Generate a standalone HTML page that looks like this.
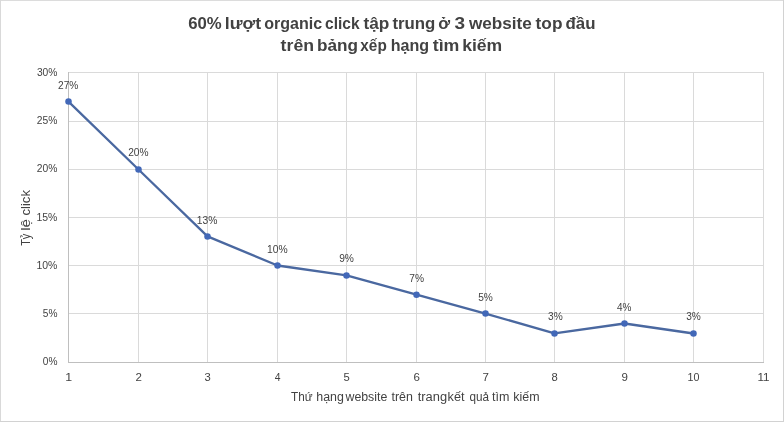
<!DOCTYPE html>
<html><head><meta charset="utf-8"><title>chart</title>
<style>
html,body{margin:0;padding:0;background:#fff;}
body{width:784px;height:423px;overflow:hidden;font-family:"Liberation Sans",sans-serif;}
svg{display:block;position:absolute;left:0;top:0;will-change:transform;}
text{font-family:"Liberation Sans",sans-serif;fill:#424242;white-space:pre;}
</style></head><body>
<svg width="784" height="423" viewBox="0 0 784 423">
<rect x="0" y="0" width="784" height="423" fill="#ffffff"/>
<g shape-rendering="crispEdges" stroke-width="1"><line x1="0" y1="0.5" x2="784" y2="0.5" stroke="#dcdcdc"/><line x1="0.5" y1="0" x2="0.5" y2="422" stroke="#d9d9d9"/><line x1="783.5" y1="0" x2="783.5" y2="422" stroke="#d2d2d2"/><line x1="0" y1="421.5" x2="784" y2="421.5" stroke="#d2d2d2"/></g>

<g stroke="#dadada" stroke-width="1" shape-rendering="crispEdges">
<line x1="68" y1="72.5" x2="764" y2="72.5"/>
<line x1="68" y1="121.5" x2="764" y2="121.5"/>
<line x1="68" y1="169.5" x2="764" y2="169.5"/>
<line x1="68" y1="217.5" x2="764" y2="217.5"/>
<line x1="68" y1="265.5" x2="764" y2="265.5"/>
<line x1="68" y1="313.5" x2="764" y2="313.5"/>
<line x1="68" y1="362.5" x2="764" y2="362.5"/>
<line x1="68.5" y1="72" x2="68.5" y2="363"/>
<line x1="138.5" y1="72" x2="138.5" y2="363"/>
<line x1="207.5" y1="72" x2="207.5" y2="363"/>
<line x1="277.5" y1="72" x2="277.5" y2="363"/>
<line x1="346.5" y1="72" x2="346.5" y2="363"/>
<line x1="416.5" y1="72" x2="416.5" y2="363"/>
<line x1="485.5" y1="72" x2="485.5" y2="363"/>
<line x1="554.5" y1="72" x2="554.5" y2="363"/>
<line x1="624.5" y1="72" x2="624.5" y2="363"/>
<line x1="693.5" y1="72" x2="693.5" y2="363"/>
<line x1="763.5" y1="72" x2="763.5" y2="363"/>
</g>
<g stroke="#bfbfbf" stroke-width="1" shape-rendering="crispEdges"><line x1="68" y1="362.5" x2="764" y2="362.5"/><line x1="68.5" y1="72" x2="68.5" y2="363"/></g>
<polyline points="68.5,101.60 138.5,169.50 207.5,236.40 277.5,265.50 346.5,275.40 416.5,294.70 485.5,313.60 554.5,333.40 624.5,323.50 693.5,333.50" fill="none" stroke="#4a68a0" stroke-width="2.3" stroke-linejoin="round" stroke-linecap="round"/>
<circle cx="68.5" cy="101.60" r="3.25" fill="#4268b8"/>
<circle cx="138.5" cy="169.50" r="3.25" fill="#4268b8"/>
<circle cx="207.5" cy="236.40" r="3.25" fill="#4268b8"/>
<circle cx="277.5" cy="265.50" r="3.25" fill="#4268b8"/>
<circle cx="346.5" cy="275.40" r="3.25" fill="#4268b8"/>
<circle cx="416.5" cy="294.70" r="3.25" fill="#4268b8"/>
<circle cx="485.5" cy="313.60" r="3.25" fill="#4268b8"/>
<circle cx="554.5" cy="333.40" r="3.25" fill="#4268b8"/>
<circle cx="624.5" cy="323.50" r="3.25" fill="#4268b8"/>
<circle cx="693.5" cy="333.50" r="3.25" fill="#4268b8"/>
<text x="188.23" y="28.50" font-size="16.75" font-weight="bold" fill="#545454" textLength="33.50" lengthAdjust="spacingAndGlyphs">60%</text>
<text x="224.86" y="28.50" font-size="16.75" font-weight="bold" fill="#545454" textLength="36.22" lengthAdjust="spacingAndGlyphs">lượt</text>
<text x="264.26" y="28.50" font-size="16.75" font-weight="bold" fill="#545454" textLength="57.95" lengthAdjust="spacingAndGlyphs">organic</text>
<text x="325.08" y="28.50" font-size="16.75" font-weight="bold" fill="#545454" textLength="34.59" lengthAdjust="spacingAndGlyphs">click</text>
<text x="363.53" y="28.50" font-size="16.75" font-weight="bold" fill="#545454" textLength="25.86" lengthAdjust="spacingAndGlyphs">tập</text>
<text x="392.43" y="28.50" font-size="16.75" font-weight="bold" fill="#545454" textLength="42.96" lengthAdjust="spacingAndGlyphs">trung</text>
<text x="438.23" y="28.50" font-size="16.75" font-weight="bold" fill="#545454" textLength="11.88" lengthAdjust="spacingAndGlyphs">ở</text>
<text x="454.62" y="28.50" font-size="16.75" font-weight="bold" fill="#545454" textLength="10.57" lengthAdjust="spacingAndGlyphs">3</text>
<text x="468.90" y="28.50" font-size="16.75" font-weight="bold" fill="#545454" textLength="62.85" lengthAdjust="spacingAndGlyphs">website</text>
<text x="535.63" y="28.50" font-size="16.75" font-weight="bold" fill="#545454" textLength="26.84" lengthAdjust="spacingAndGlyphs">top</text>
<text x="565.53" y="28.50" font-size="16.75" font-weight="bold" fill="#545454" textLength="29.92" lengthAdjust="spacingAndGlyphs">đầu</text>
<text x="280.62" y="51.20" font-size="16.75" font-weight="bold" fill="#545454" textLength="33.42" lengthAdjust="spacingAndGlyphs">trên</text>
<text x="317.00" y="51.20" font-size="16.75" font-weight="bold" fill="#545454" textLength="40.98" lengthAdjust="spacingAndGlyphs">bảng</text>
<text x="360.35" y="51.20" font-size="16.75" font-weight="bold" fill="#545454" textLength="26.42" lengthAdjust="spacingAndGlyphs">xếp</text>
<text x="390.67" y="51.20" font-size="16.75" font-weight="bold" fill="#545454" textLength="38.43" lengthAdjust="spacingAndGlyphs">hạng</text>
<text x="432.72" y="51.20" font-size="16.75" font-weight="bold" fill="#545454" textLength="26.64" lengthAdjust="spacingAndGlyphs">tìm</text>
<text x="462.17" y="51.20" font-size="16.75" font-weight="bold" fill="#545454" textLength="40.07" lengthAdjust="spacingAndGlyphs">kiếm</text>
<text x="290.97" y="401.00" font-size="12" textLength="21.55" lengthAdjust="spacingAndGlyphs">Thứ</text>
<text x="316.33" y="401.00" font-size="12" textLength="27.57" lengthAdjust="spacingAndGlyphs">hạng</text>
<text x="345.50" y="401.00" font-size="12" textLength="41.80" lengthAdjust="spacingAndGlyphs">website</text>
<text x="391.45" y="401.00" font-size="12" textLength="21.44" lengthAdjust="spacingAndGlyphs">trên</text>
<text x="417.74" y="401.00" font-size="12" textLength="29.35" lengthAdjust="spacingAndGlyphs">trang</text>
<text x="447.61" y="401.00" font-size="12" textLength="16.94" lengthAdjust="spacingAndGlyphs">kết</text>
<text x="469.43" y="401.00" font-size="12" textLength="19.55" lengthAdjust="spacingAndGlyphs">quả</text>
<text x="491.95" y="401.00" font-size="12" textLength="17.41" lengthAdjust="spacingAndGlyphs">tìm</text>
<text x="513.33" y="401.00" font-size="12" textLength="26.26" lengthAdjust="spacingAndGlyphs">kiếm</text>
<text transform="translate(30.20,0) rotate(-90)" x="-245.82" y="0" font-size="12" textLength="12.14" lengthAdjust="spacingAndGlyphs">Tỷ</text>
<text transform="translate(30.20,0) rotate(-90)" x="-230.87" y="0" font-size="12" textLength="11.91" lengthAdjust="spacingAndGlyphs">lệ</text>
<text transform="translate(30.20,0) rotate(-90)" x="-215.52" y="0" font-size="12" textLength="25.48" lengthAdjust="spacingAndGlyphs">click</text>
<text x="36.89" y="76.00" font-size="10.8" textLength="20.53" lengthAdjust="spacingAndGlyphs">30%</text>
<text x="36.78" y="124.20" font-size="10.8" textLength="20.64" lengthAdjust="spacingAndGlyphs">25%</text>
<text x="36.78" y="172.30" font-size="10.8" textLength="20.64" lengthAdjust="spacingAndGlyphs">20%</text>
<text x="36.46" y="220.90" font-size="10.8" textLength="20.97" lengthAdjust="spacingAndGlyphs">15%</text>
<text x="36.46" y="269.20" font-size="10.8" textLength="20.97" lengthAdjust="spacingAndGlyphs">10%</text>
<text x="42.79" y="317.30" font-size="10.8" textLength="14.66" lengthAdjust="spacingAndGlyphs">5%</text>
<text x="42.79" y="365.20" font-size="10.8" textLength="14.66" lengthAdjust="spacingAndGlyphs">0%</text>
<text x="65.31" y="380.80" font-size="10.8" textLength="6.86" lengthAdjust="spacingAndGlyphs">1</text>
<text x="135.47" y="380.80" font-size="10.8" textLength="6.41" lengthAdjust="spacingAndGlyphs">2</text>
<text x="204.60" y="380.80" font-size="10.8" textLength="6.27" lengthAdjust="spacingAndGlyphs">3</text>
<text x="274.84" y="380.80" font-size="10.8" textLength="5.78" lengthAdjust="spacingAndGlyphs">4</text>
<text x="343.60" y="380.80" font-size="10.8" textLength="6.27" lengthAdjust="spacingAndGlyphs">5</text>
<text x="413.47" y="380.80" font-size="10.8" textLength="6.41" lengthAdjust="spacingAndGlyphs">6</text>
<text x="482.47" y="380.80" font-size="10.8" textLength="6.41" lengthAdjust="spacingAndGlyphs">7</text>
<text x="551.60" y="380.80" font-size="10.8" textLength="6.27" lengthAdjust="spacingAndGlyphs">8</text>
<text x="621.47" y="380.80" font-size="10.8" textLength="6.41" lengthAdjust="spacingAndGlyphs">9</text>
<text x="687.54" y="380.80" font-size="10.8" textLength="11.91" lengthAdjust="spacingAndGlyphs">10</text>
<text x="757.47" y="380.80" font-size="10.8" textLength="12.09" lengthAdjust="spacingAndGlyphs">11</text>
<text x="57.99" y="89.10" font-size="10.5" textLength="20.33" lengthAdjust="spacingAndGlyphs">27%</text>
<text x="128.19" y="155.90" font-size="10.5" textLength="20.33" lengthAdjust="spacingAndGlyphs">20%</text>
<text x="196.87" y="224.30" font-size="10.5" textLength="20.65" lengthAdjust="spacingAndGlyphs">13%</text>
<text x="267.07" y="253.30" font-size="10.5" textLength="20.65" lengthAdjust="spacingAndGlyphs">10%</text>
<text x="339.14" y="262.40" font-size="10.5" textLength="14.77" lengthAdjust="spacingAndGlyphs">9%</text>
<text x="409.24" y="282.30" font-size="10.5" textLength="14.77" lengthAdjust="spacingAndGlyphs">7%</text>
<text x="478.14" y="301.20" font-size="10.5" textLength="14.66" lengthAdjust="spacingAndGlyphs">5%</text>
<text x="548.04" y="320.30" font-size="10.5" textLength="14.66" lengthAdjust="spacingAndGlyphs">3%</text>
<text x="616.95" y="311.20" font-size="10.5" textLength="14.45" lengthAdjust="spacingAndGlyphs">4%</text>
<text x="686.14" y="320.20" font-size="10.5" textLength="14.66" lengthAdjust="spacingAndGlyphs">3%</text>
</svg></body></html>
